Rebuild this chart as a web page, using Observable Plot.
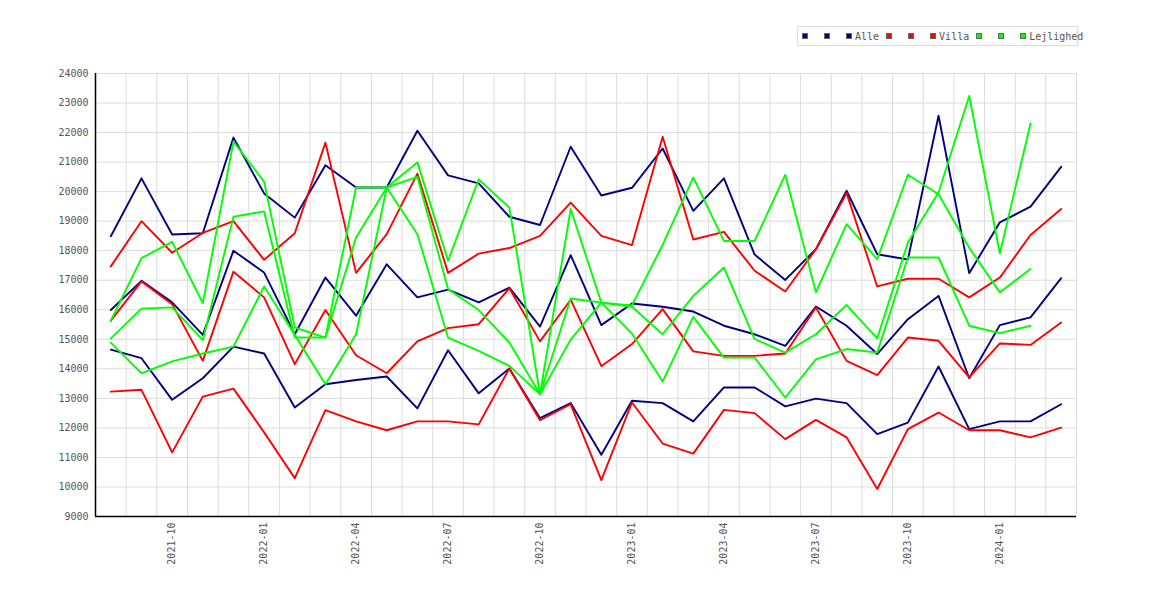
<!DOCTYPE html>
<html>
<head>
<meta charset="utf-8">
<script src="https://cdn.jsdelivr.net/npm/d3@7"></script>
<script src="https://cdn.jsdelivr.net/npm/@observablehq/plot@0.6"></script>
<style>
  html, body { margin: 0; padding: 0; background: #fff; }
  #wrap { position: relative; width: 1170px; height: 600px; }
  #legend {
    position: absolute; left: 797px; top: 26px; width: 275px; height: 18px;
    border: 1px solid #dcdcdc; background: #fff; box-sizing: content-box;
    font-family: "DejaVu Sans Mono", monospace; font-size: 10px; color: #555;
    display: flex; align-items: center; padding-left: 4px; white-space: nowrap; overflow: visible;
  }
  .item { display: flex; align-items: center; flex-shrink: 0; }
  .sw { width: 4px; height: 4px; border: 1px solid #666; margin-right: 3px; flex-shrink: 0; }
  .item.empty { width: 22px; }
  .item.lab { padding-right: 7px; }
</style>
</head>
<body>
<div id="wrap">
  <div id="chart"></div>
  <div id="legend"></div>
</div>
<script>
const months = ["2021-08","2021-09","2021-10","2021-11","2021-12","2022-01","2022-02","2022-03","2022-04","2022-05","2022-06","2022-07","2022-08","2022-09","2022-10","2022-11","2022-12","2023-01","2023-02","2023-03","2023-04","2023-05","2023-06","2023-07","2023-08","2023-09","2023-10","2023-11","2023-12","2024-01","2024-02","2024-03"];
const tickMonths = ["2021-10","2022-01","2022-04","2022-07","2022-10","2023-01","2023-04","2023-07","2023-10","2024-01"];
const yTicks = [9000,10000,11000,12000,13000,14000,15000,16000,17000,18000,19000,20000,21000,22000,23000,24000];

const alleA = [18490,20450,18550,18590,21830,19940,19120,20890,20140,20140,22060,20550,20280,19150,18870,21520,19870,20130,21460,19350,20450,17870,17010,18050,20030,17880,17700,22570,17240,18960,19490,20840];
const alleB = [15990,16980,16250,15150,18000,17260,15170,17090,15800,17540,16420,16680,16250,16750,15430,17850,15480,16210,16100,15940,15460,15170,14780,16110,15460,14500,15680,16470,13680,15480,15740,17070];
const alleC = [14650,14360,12950,13680,14750,14520,12690,13480,13620,13740,12660,14630,13170,14010,12330,12840,11090,12920,12840,12220,13370,13370,12730,12990,12840,11790,12180,14080,11960,12220,12220,12800];

const villaA = [17470,19000,17930,18600,19000,17690,18590,21660,17250,18560,20610,17250,17900,18090,18500,19630,18500,18190,21860,18380,18640,17320,16620,18050,19950,16790,17050,17050,16420,17090,18530,19410];
const villaB = [15630,16960,16190,14270,17290,16420,14160,15990,14460,13850,14930,15380,15510,16730,14930,16340,14090,14840,16020,14590,14440,14440,14520,16080,14270,13790,15060,14950,13710,14860,14810,15570];
const villaC = [13230,13290,11170,13060,13330,11850,10300,12600,12220,11920,12220,12220,12120,14010,12260,12800,10230,12860,11470,11130,12610,12500,11620,12270,11680,9930,11960,12520,11920,11920,11680,12010];

const lejA = [15630,17750,18300,16220,21690,20340,15400,15060,20140,20140,20990,17660,20420,19460,13140,19410,16240,16100,15170,16470,17430,15010,14550,15170,16160,15030,18280,19970,23240,17910,22310,null];
const lejB = [15030,16040,16080,14970,19150,19330,15060,15060,18450,20140,20500,16700,15990,14890,13140,16380,16240,15200,13570,15760,14380,14380,13030,14320,14670,14550,17770,17770,15460,15210,15460,null];
const lejC = [14890,13850,14250,14520,14750,16790,15150,13480,15170,20140,18560,15060,14610,14100,13140,14990,16240,16150,18200,20480,18330,18330,20570,16590,18900,17710,20570,19910,18100,16590,17380,null];

const groups = [
  {name: "Alle", color: "#000080", lines: [alleA, alleB, alleC]},
  {name: "Villa", color: "#ff0000", lines: [villaA, villaB, villaC]},
  {name: "Lejlighed", color: "#00ff00", lines: [lejA, lejB, lejC]}
];

const n = months.length;
const gridX = d3.range(n).map(i => i + 0.5);
const tickIdx = tickMonths.map(m => months.indexOf(m));

const lineMarks = [];
for (const g of groups) {
  for (const arr of g.lines) {
    lineMarks.push(Plot.lineY(arr, {x: (d, i) => i, y: d => d, stroke: g.color, strokeWidth: 1.9, defined: d => d != null}));
  }
}

const chart = Plot.plot({
  width: 1170,
  height: 600,
  marginLeft: 95,
  marginRight: 94,
  marginTop: 73,
  marginBottom: 84,
  style: {fontFamily: "'DejaVu Sans Mono', monospace", fontSize: "10px", color: "#555", background: "#fff"},
  x: {type: "linear", domain: [-0.5, n - 0.5]},
  y: {domain: [9000, 24000]},
  marks: [
    Plot.ruleX(gridX, {x: d => d, stroke: "#dcdcdc", strokeWidth: 1}),
    Plot.ruleY(yTicks.slice(1), {y: d => d, stroke: "#dcdcdc", strokeWidth: 1}),
    ...lineMarks,
    Plot.ruleX([-0.5], {x: d => d, stroke: "#000", strokeWidth: 1.5}),
    Plot.ruleY([9000], {y: d => d, stroke: "#000", strokeWidth: 1.5}),
    Plot.axisY({ticks: yTicks, tickFormat: d => String(d), tickSize: 0, tickPadding: 7, label: null, fill: "#555"}),
    Plot.axisX({ticks: tickIdx, tickFormat: i => months[i], tickSize: 0, tickPadding: 6, tickRotate: -90, label: null, fill: "#555"})
  ]
});
document.getElementById("chart").appendChild(chart);

// legend
const legend = document.getElementById("legend");
for (const g of groups) {
  const labels = ["", "", g.name];
  labels.forEach((lab) => {
    const item = document.createElement("div");
    item.className = "item " + (lab ? "lab" : "empty");
    const sw = document.createElement("div");
    sw.className = "sw";
    sw.style.background = g.color;
    item.appendChild(sw);
    if (lab) {
      const t = document.createElement("span");
      t.textContent = lab;
      item.appendChild(t);
    }
    legend.appendChild(item);
  });
}
</script>
</body>
</html>
